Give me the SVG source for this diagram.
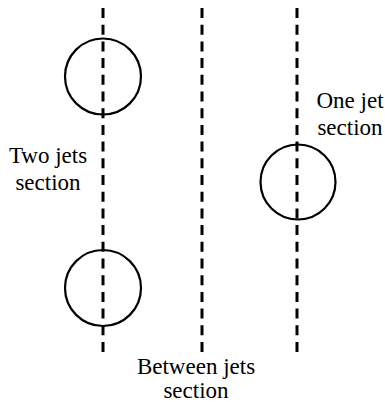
<svg xmlns="http://www.w3.org/2000/svg" width="385" height="402" viewBox="0 0 385 402">
<style>
.axis{stroke:#000;stroke-width:3;stroke-dasharray:10 6.7;fill:none}
.jet{stroke:#000;stroke-width:2.2;fill:none}
text{font-family:"Liberation Serif","Times New Roman",serif;font-size:23px;fill:#000;text-anchor:middle}
</style>
<rect width="385" height="402" fill="#fff"/>
<g id="connectors">
<line class="axis" x1="103" y1="8" x2="103" y2="353"/>
<line class="axis" x1="202" y1="8" x2="202" y2="353"/>
<line class="axis" x1="297" y1="8" x2="297" y2="353"/>
</g>
<g id="jet-top-left"><circle class="jet" cx="103" cy="76.5" r="38"/></g>
<g id="jet-bottom-left"><circle class="jet" cx="103" cy="288" r="38"/></g>
<g id="jet-right"><circle class="jet" cx="298" cy="182" r="37.5"/></g>
<g id="label-two"><text x="48" y="163">Two jets</text><text x="48" y="190">section</text></g>
<g id="label-one"><text x="350" y="108">One jet</text><text x="350" y="135">section</text></g>
<g id="label-between"><text x="196" y="374">Between jets</text><text x="196" y="398">section</text></g>
</svg>
